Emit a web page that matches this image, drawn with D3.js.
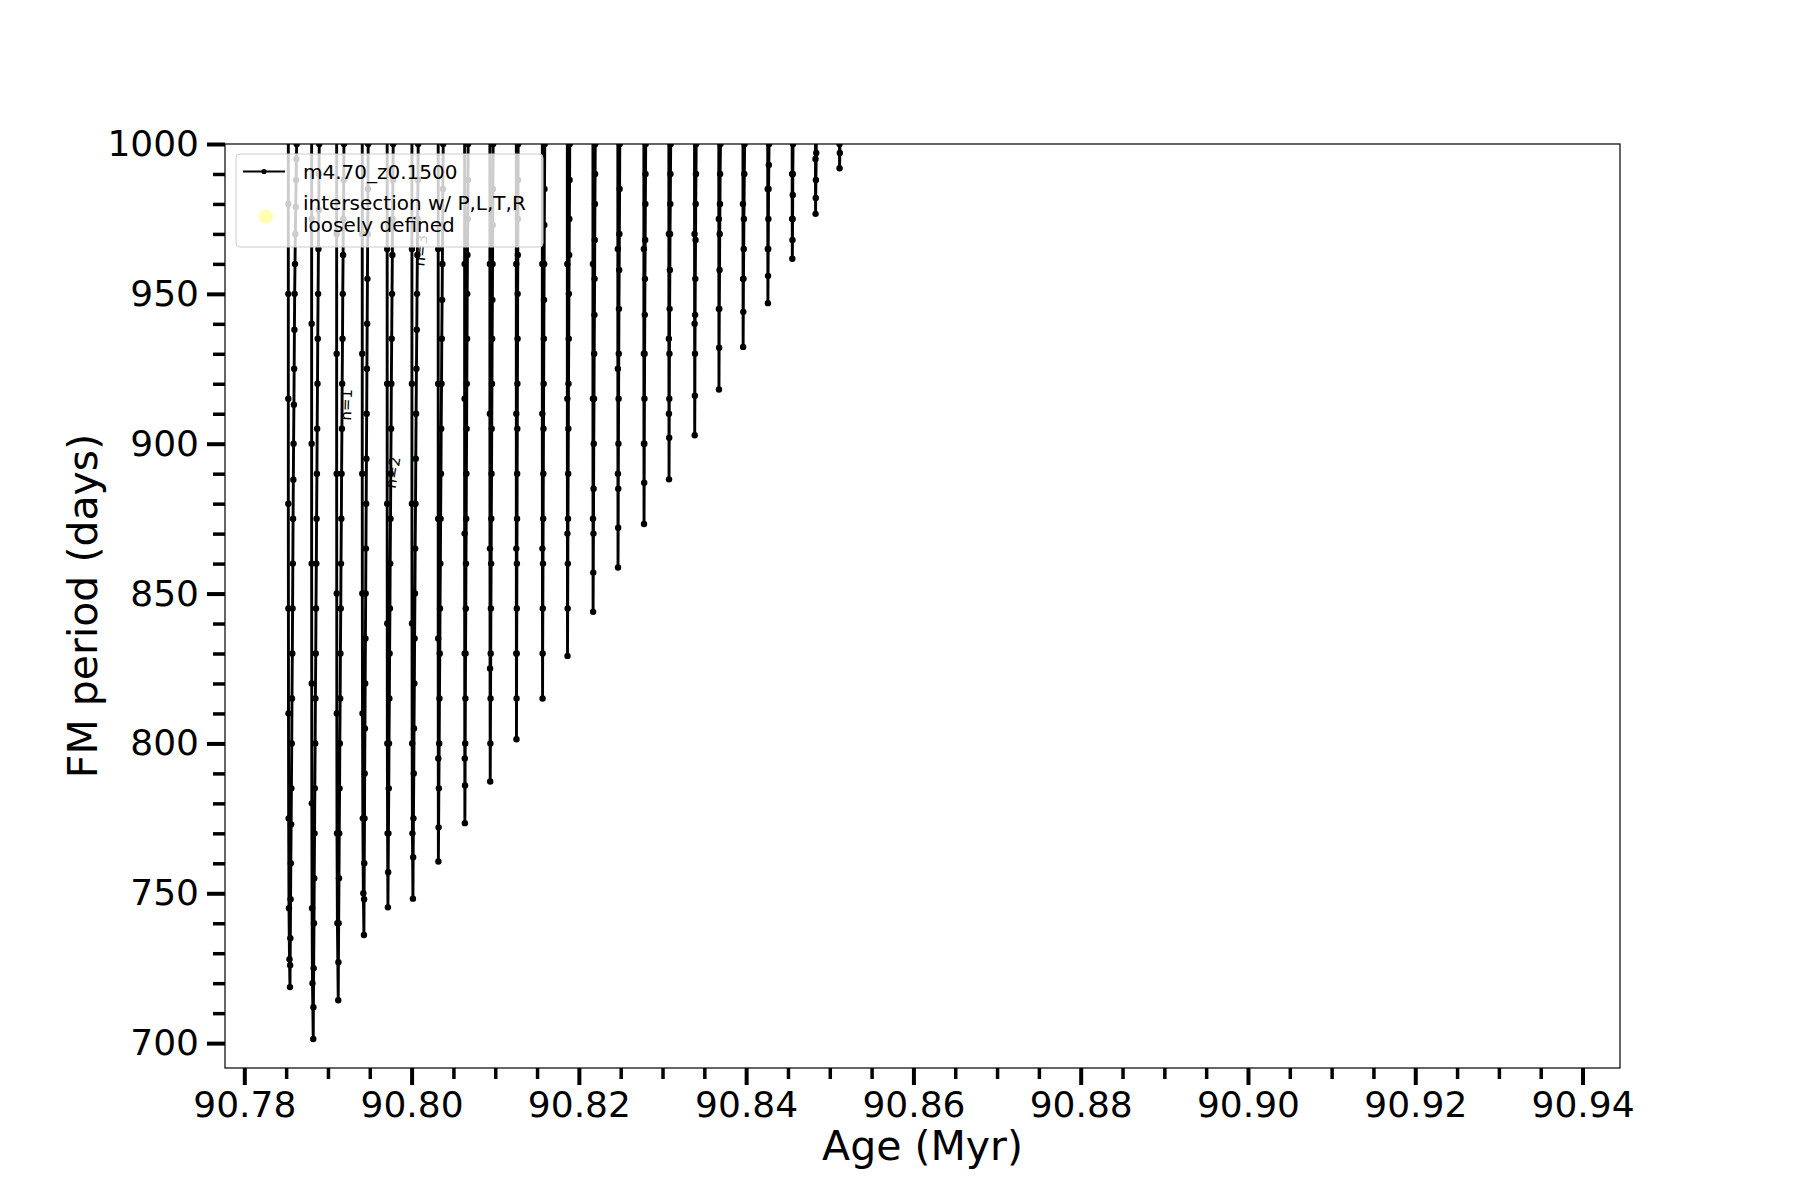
<!DOCTYPE html>
<html>
<head>
<meta charset="utf-8">
<script src="https://cdn.jsdelivr.net/npm/d3@7"></script>
<style>
  body { margin: 0; background: #ffffff; }
  svg text { font-family: "DejaVu Sans", sans-serif; }
</style>
</head>
<body>
<div id="plot_fm_period_here"></div>
<script>
// FM period vs age, m4.70_z0.1500 -- one [age (Myr), period (days)] list per loop
const loop01 = [[90.78526,1010],[90.78526,980],[90.78526,950],[90.78526,915],[90.78526,880],[90.78527,845],[90.78528,810],[90.78530,775],[90.78534,745],[90.78540,728],[90.78546,718.7],
  [90.78548,726],[90.78550,735],[90.78553,748],[90.78556,760],[90.78560,773],[90.78563,785],[90.78567,800],[90.78570,815],[90.78574,830],[90.78577,845],[90.78580,860],[90.78583,875],[90.78586,888],[90.78589,900],[90.78593,913],[90.78596,925],[90.78599,938],[90.78602,950],[90.78606,960],[90.78610,970],[90.78615,979],[90.78619,988],[90.78623,995],[90.78626,1000],[90.78629,1010]];
const loop02 = [[90.78805,1010],[90.78805,975],[90.78805,940],[90.78805,900],[90.78805,860],[90.78806,820],[90.78807,780],[90.78810,745],[90.78815,720],[90.78824,701.4],
  [90.78826,712],[90.78829,725],[90.78833,740],[90.78836,755],[90.78840,770],[90.78843,785],[90.78847,800],[90.78850,815],[90.78854,830],[90.78857,845],[90.78861,860],[90.78864,875],[90.78868,890],[90.78871,905],[90.78875,920],[90.78878,935],[90.78882,950],[90.78886,965],[90.78890,978],[90.78893,990],[90.78896,1000],[90.78898,1010]];
const loop03 = [[90.79104,1010],[90.79104,970],[90.79104,930],[90.79104,890],[90.79105,850],[90.79106,810],[90.79108,770],[90.79113,740],[90.79123,714.3],
  [90.79125,727],[90.79128,740],[90.79132,755],[90.79135,770],[90.79139,785],[90.79142,800],[90.79146,815],[90.79149,830],[90.79153,845],[90.79156,860],[90.79160,875],[90.79163,890],[90.79167,905],[90.79170,920],[90.79174,935],[90.79177,950],[90.79181,963],[90.79184,975],[90.79188,988],[90.79191,1000],[90.79193,1010]];
const loop04 = [[90.79410,1010],[90.79410,970],[90.79410,930],[90.79410,890],[90.79411,850],[90.79413,810],[90.79417,775],[90.79423,750],[90.79430,736.1],
  [90.79432,748],[90.79434,760],[90.79437,775],[90.79439,790],[90.79442,805],[90.79445,820],[90.79448,835],[90.79451,850],[90.79454,865],[90.79457,880],[90.79460,895],[90.79463,910],[90.79466,925],[90.79469,940],[90.79472,955],[90.79475,970],[90.79478,985],[90.79481,1000],[90.79483,1010]];
const loop05 = [[90.79708,1010],[90.79708,965],[90.79708,920],[90.79708,880],[90.79709,840],[90.79710,800],[90.79713,770],[90.79717,745.3],
  [90.79720,757],[90.79723,770],[90.79727,785],[90.79730,800],[90.79734,815],[90.79737,830],[90.79741,845],[90.79744,860],[90.79748,875],[90.79751,890],[90.79755,905],[90.79758,920],[90.79762,935],[90.79766,950],[90.79770,963],[90.79773,975],[90.79777,988],[90.79780,1000],[90.79782,1010]];
const loop06 = [[90.80004,1010],[90.80004,965],[90.80004,920],[90.80004,880],[90.80005,840],[90.80007,800],[90.80010,770],[90.80016,748.2],
  [90.80019,762],[90.80022,775],[90.80026,790],[90.80029,805],[90.80033,820],[90.80036,835],[90.80040,850],[90.80043,865],[90.80047,880],[90.80050,895],[90.80054,910],[90.80058,925],[90.80062,938],[90.80065,950],[90.80069,963],[90.80072,975],[90.80076,988],[90.80079,1000],[90.80081,1010]];
const loop07 = [[90.80318,1010],[90.80318,965],[90.80318,920],[90.80318,875],[90.80318,835],[90.80319,795],[90.80320,760.6],
  [90.80323,772],[90.80326,785],[90.80330,800],[90.80333,815],[90.80337,830],[90.80340,845],[90.80344,860],[90.80347,875],[90.80351,890],[90.80354,905],[90.80358,920],[90.80361,935],[90.80365,948],[90.80368,960],[90.80371,973],[90.80374,985],[90.80378,1000],[90.80380,1010]];
const loop08 = [[90.80634,1010],[90.80634,960],[90.80634,915],[90.80634,870],[90.80635,830],[90.80636,795],[90.80637,773.4],
  [90.80639,786],[90.80641,800],[90.80643,815],[90.80645,830],[90.80648,845],[90.80650,860],[90.80653,875],[90.80655,890],[90.80658,905],[90.80660,920],[90.80663,935],[90.80665,950],[90.80668,963],[90.80671,975],[90.80674,988],[90.80676,1000],[90.80678,1010]];
const loop09 = [[90.80936,1010],[90.80936,960],[90.80936,910],[90.80937,865],[90.80938,825],[90.80940,787.3],
  [90.80942,800],[90.80944,815],[90.80946,830],[90.80948,845],[90.80951,860],[90.80953,875],[90.80956,890],[90.80958,905],[90.80961,920],[90.80963,935],[90.80966,948],[90.80968,960],[90.80970,973],[90.80972,985],[90.80975,1000],[90.80977,1010]];
const loop10 = [[90.81252,1010],[90.81252,960],[90.81252,910],[90.81252,865],[90.81253,830],[90.81254,801.4],
  [90.81255,815],[90.81256,830],[90.81258,845],[90.81259,860],[90.81261,875],[90.81262,890],[90.81264,905],[90.81265,920],[90.81267,935],[90.81268,950],[90.81270,963],[90.81271,975],[90.81273,988],[90.81274,1000],[90.81276,1010]];
const loop11 = [[90.81563,1010],[90.81563,960],[90.81563,910],[90.81564,865],[90.81566,815.0],
  [90.81567,830],[90.81569,845],[90.81571,860],[90.81573,875],[90.81575,890],[90.81577,905],[90.81579,920],[90.81581,935],[90.81583,948],[90.81585,960],[90.81587,973],[90.81589,985],[90.81592,1000],[90.81594,1010]];
const loop12 = [[90.81862,1010],[90.81862,960],[90.81862,915],[90.81863,870],[90.81864,829.2],
  [90.81866,845],[90.81868,860],[90.81870,875],[90.81872,890],[90.81874,905],[90.81876,920],[90.81879,935],[90.81881,950],[90.81884,963],[90.81886,975],[90.81889,988],[90.81891,1000],[90.81893,1010]];
const loop13 = [[90.82168,1010],[90.82168,960],[90.82168,915],[90.82169,875],[90.82170,843.9],
  [90.82172,857],[90.82174,870],[90.82176,885],[90.82178,900],[90.82181,915],[90.82183,930],[90.82186,943],[90.82188,955],[90.82190,968],[90.82192,980],[90.82194,990],[90.82196,1000],[90.82198,1010]];
const loop14 = [[90.82466,1010],[90.82466,965],[90.82466,925],[90.82467,890],[90.82468,858.7],
  [90.82470,872],[90.82471,885],[90.82473,900],[90.82475,915],[90.82477,930],[90.82479,945],[90.82482,958],[90.82484,970],[90.82487,985],[90.82489,1000],[90.82491,1010]];
const loop15 = [[90.82777,1010],[90.82777,965],[90.82777,930],[90.82778,900],[90.82779,873.2],
  [90.82781,887],[90.82782,900],[90.82784,915],[90.82786,930],[90.82788,943],[90.82790,955],[90.82793,968],[90.82795,980],[90.82797,990],[90.82799,1000],[90.82801,1010]];
const loop16 = [[90.83076,1010],[90.83076,970],[90.83076,935],[90.83077,910],[90.83078,888.1],
  [90.83080,902],[90.83081,915],[90.83083,930],[90.83085,945],[90.83088,958],[90.83090,970],[90.83093,980],[90.83095,990],[90.83098,1000],[90.83100,1010]];
const loop17 = [[90.83383,1010],[90.83383,970],[90.83384,940],[90.83385,902.8],
  [90.83387,916],[90.83388,930],[90.83390,943],[90.83392,955],[90.83395,968],[90.83397,980],[90.83400,990],[90.83403,1000],[90.83405,1010]];
const loop18 = [[90.83673,1010],[90.83673,975],[90.83674,945],[90.83675,918.1],
  [90.83677,932],[90.83679,945],[90.83682,958],[90.83684,970],[90.83687,980],[90.83689,990],[90.83693,1000],[90.83695,1010]];
const loop19 = [[90.83962,1010],[90.83962,980],[90.83963,955],[90.83964,932.3],
  [90.83966,944],[90.83968,955],[90.83971,965],[90.83973,975],[90.83978,990],[90.83982,1000],[90.83984,1010]];
const loop20 = [[90.84258,1010],[90.84258,985],[90.84259,965],[90.84260,946.9],
  [90.84262,956],[90.84264,965],[90.84266,975],[90.84268,985],[90.84271,993],[90.84274,1000],[90.84276,1010]];
const loop21 = [[90.84550,1010],[90.84550,990],[90.84551,975],[90.84552,961.7],
  [90.84554,968],[90.84555,975],[90.84557,983],[90.84558,990],[90.84561,1000],[90.84563,1010]];
const loop22 = [[90.84829,1010],[90.84829,995],[90.84830,976.7],
  [90.84832,982],[90.84834,988],[90.84838,997],[90.84840,1010]];
const loop23 = [[90.85116,1010],[90.85116,1000],[90.85117,991.9],
  [90.85120,997],[90.85123,1005],[90.85125,1010]];

const loops = [loop01, loop02, loop03, loop04, loop05, loop06, loop07, loop08, loop09, loop10, loop11, loop12,
  loop13, loop14, loop15, loop16, loop17, loop18, loop19, loop20, loop21, loop22, loop23];

// radial order labels: text, age, period, angle
const orderLabels = [["n=1", 90.79222, 913.0, -88], ["n=2", 90.79778, 890.4, -81], ["n=3", 90.80112, 964.5, -84]];

const xMajorTicks = [90.78, 90.80, 90.82, 90.84, 90.86, 90.88, 90.90, 90.92, 90.94];
const xMinorTicks = [90.785, 90.79, 90.795, 90.805, 90.81, 90.815, 90.825, 90.83, 90.835, 90.845, 90.85, 90.855,
  90.865, 90.87, 90.875, 90.885, 90.89, 90.895, 90.905, 90.91, 90.915, 90.925, 90.93, 90.935];
const yMajorTicks = [700, 750, 800, 850, 900, 950, 1000];
const yMinorTicks = [710, 720, 730, 740, 760, 770, 780, 790, 810, 820, 830, 840, 860, 870, 880, 890,
  910, 920, 930, 940, 960, 970, 980, 990];

const seriesName = "m4.70_z0.1500";
const intersectionName = ["intersection w/ P,L,T,R", "loosely defined"];

var W = 1800, H = 1200;
var margin = {left: 225, right: 180, top: 144, bottom: 132};
var width = W - margin.left - margin.right;
var height = H - margin.top - margin.bottom;

var svg = d3.select("#plot_fm_period_here")
  .append("svg")
  .attr("width", W)
  .attr("height", H)
  .append("g")
  .attr("transform", "translate(" + margin.left + "," + margin.top + ")");

var x = d3.scaleLinear()
  .domain([90.77769, 90.94448])
  .range([0, width]);
var y = d3.scaleLinear()
  .domain([691.7, 1000])
  .range([height, 0]);

svg.append("clipPath")
  .attr("id", "plotclip")
  .append("rect")
  .attr("width", width)
  .attr("height", height);

// the whole track, one path, loops joined above the top edge
var allPts = [].concat(...loops);
var line = d3.line()
  .x(function(d) { return x(d[0]); })
  .y(function(d) { return y(d[1]); });

var plot = svg.append("g").attr("clip-path", "url(#plotclip)");
plot.append("path")
  .datum(allPts)
  .attr("d", line)
  .attr("fill", "none")
  .attr("stroke", "black")
  .attr("stroke-width", 2.9)
  .attr("stroke-linejoin", "round");

plot.selectAll("mymarker")
  .data(allPts)
  .enter()
  .append("circle")
    .attr("cx", function(d) { return x(d[0]); })
    .attr("cy", function(d) { return y(d[1]); })
    .attr("r", 3.2)
    .attr("fill", "black");

orderLabels.forEach(function(l) {
  svg.append("text")
    .attr("transform", "translate(" + x(l[1]) + "," + y(l[2]) + ") rotate(" + l[3] + ")")
    .attr("text-anchor", "middle")
    .attr("dominant-baseline", "central")
    .style("font-size", "15px")
    .text(l[0]);
});

// axes
function styleTicks(g, w) {
  g.select(".domain").remove();
  g.selectAll(".tick line").attr("stroke", "black").attr("stroke-width", w);
  g.selectAll(".tick text").attr("fill", "black").style("font-size", "36px").style("font-family", "DejaVu Sans");
}

svg.append("g")
  .attr("transform", "translate(0," + height + ")")
  .call(d3.axisBottom(x).tickValues(xMinorTicks).tickSize(11).tickSizeOuter(0).tickFormat(""))
  .call(styleTicks, 3.5);
svg.append("g")
  .attr("transform", "translate(0," + height + ")")
  .call(d3.axisBottom(x).tickValues(xMajorTicks).tickSize(17).tickPadding(6).tickSizeOuter(0).tickFormat(d3.format(".2f")))
  .call(styleTicks, 4);

svg.append("g")
  .call(d3.axisLeft(y).tickValues(yMinorTicks).tickSize(12).tickSizeOuter(0).tickFormat(""))
  .call(styleTicks, 3.5);
svg.append("g")
  .call(d3.axisLeft(y).tickValues(yMajorTicks).tickSize(18).tickPadding(8).tickSizeOuter(0).tickFormat(d3.format("d")))
  .call(styleTicks, 4);

// frame
svg.append("rect")
  .attr("width", width)
  .attr("height", height)
  .attr("fill", "none")
  .attr("stroke", "black")
  .attr("stroke-width", 1.2);

svg.append("text")
  .attr("text-anchor", "middle")
  .attr("x", width / 2)
  .attr("y", height + 92)
  .style("font-size", "41px")
  .text("Age (Myr)");

svg.append("text")
  .attr("text-anchor", "middle")
  .attr("transform", "translate(" + (97 - margin.left) + "," + (height / 2) + ") rotate(-90)")
  .style("font-size", "41px")
  .text("FM period (days)");

// legend
var lg = svg.append("g").attr("transform", "translate(11,10)");
lg.append("rect")
  .attr("width", 307)
  .attr("height", 93)
  .attr("rx", 4)
  .attr("fill", "white")
  .attr("fill-opacity", 0.8)
  .attr("stroke", "#cccccc")
  .attr("stroke-width", 1);
lg.append("line")
  .attr("x1", 7).attr("x2", 49)
  .attr("y1", 17.5).attr("y2", 17.5)
  .attr("stroke", "black")
  .attr("stroke-width", 2.2);
lg.append("circle")
  .attr("cx", 28).attr("cy", 17.5).attr("r", 2.6)
  .attr("fill", "black");
lg.append("text")
  .attr("x", 67).attr("y", 25)
  .style("font-size", "20px")
  .text(seriesName);
lg.append("circle")
  .attr("cx", 30).attr("cy", 62.5).attr("r", 7)
  .attr("fill", "yellow")
  .attr("fill-opacity", 0.3);
lg.selectAll("mylegendtext")
  .data(intersectionName)
  .enter()
  .append("text")
    .attr("x", 67)
    .attr("y", function(d, i) { return 56 + i * 22; })
    .style("font-size", "20px")
    .text(function(d) { return d; });
</script>
</body>
</html>
